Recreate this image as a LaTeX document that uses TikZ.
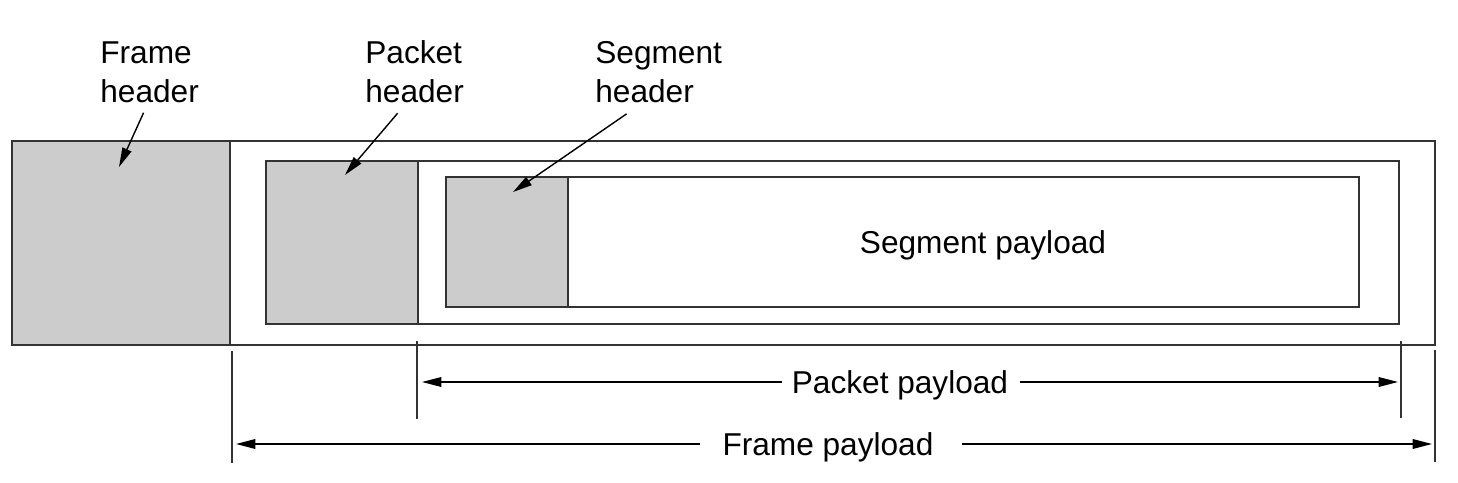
\documentclass[tikz,border=0pt]{standalone}
\usepackage{fontspec}
\setmainfont{Liberation Sans}
\usetikzlibrary{arrows.meta}
\definecolor{hdrgray}{HTML}{CCCCCC}
\definecolor{linegray}{HTML}{333333}
\tikzset{
  box/.style={draw=linegray, line width=0.9pt},
  hdr/.style={box, fill=hdrgray},
  lbl/.style={align=left, font=\fontsize{18}{22}\selectfont, inner sep=0pt},
  paylbl/.style={lbl, text depth=0pt},
  ptr/.style={draw=black, line width=0.8pt, -{Triangle[length=11pt,width=5.5pt]}},
  tick/.style={draw=linegray, line width=0.9pt}
}
\begin{document}
\begin{tikzpicture}[x=0.02cm,y=-0.02cm]
\useasboundingbox (0,0) rectangle (1458,483);

\draw[box] (12,141) rectangle (1435,345);
\draw[hdr] (12,141) rectangle (230,345);
\draw[box] (266,161) rectangle (1399,324);
\draw[hdr] (266,161) rectangle (418,324);
\draw[box] (446,177) rectangle (1359,307);
\draw[hdr] (446,177) rectangle (568,307);
\draw[linegray, line width=1.6pt] (446,177) -- (568,177);

\node[lbl, anchor=west] (fhdr) at (100,72) {Frame\\header};
\node[lbl, anchor=west] (phdr) at (365,72) {Packet\\header};
\node[lbl, anchor=west] (shdr) at (595,72) {Segment\\header};
\node[paylbl] (spay) at (983,242) {Segment payload};

\coordinate (fhtip) at (119,167);
\coordinate (phtip) at (345,175);
\coordinate (shtip) at (513,192);
\draw[ptr] ([shift={(-6,10)}]fhdr.south) -- (fhtip);
\draw[ptr] ([shift={(-17,10)}]phdr.south) -- (phtip);
\draw[ptr] ([shift={(-32,11)}]shdr.south) -- (shtip);

\draw[tick] (417,341) -- (417,419);
\draw[tick] (1401,341) -- (1401,418);
\draw[tick] (232,351) -- (232,463);
\draw[tick] (1435,350) -- (1435,462);

\node[paylbl] (ppay) at (900,382) {Packet payload};
\coordinate (ppl) at (422,382);
\coordinate (ppr) at (1398,382);
\draw[ptr] ([shift={(-10,0)}]ppay.west) -- (ppl);
\draw[ptr] ([shift={(12,0)}]ppay.east) -- (ppr);

\node[paylbl] (fpay) at (828,444) {Frame payload};
\coordinate (fpl) at (236,444);
\coordinate (fpr) at (1432,444);
\draw[ptr] ([shift={(-22,0)}]fpay.west) -- (fpl);
\draw[ptr] ([shift={(28,0)}]fpay.east) -- (fpr);

\end{tikzpicture}
\end{document}
